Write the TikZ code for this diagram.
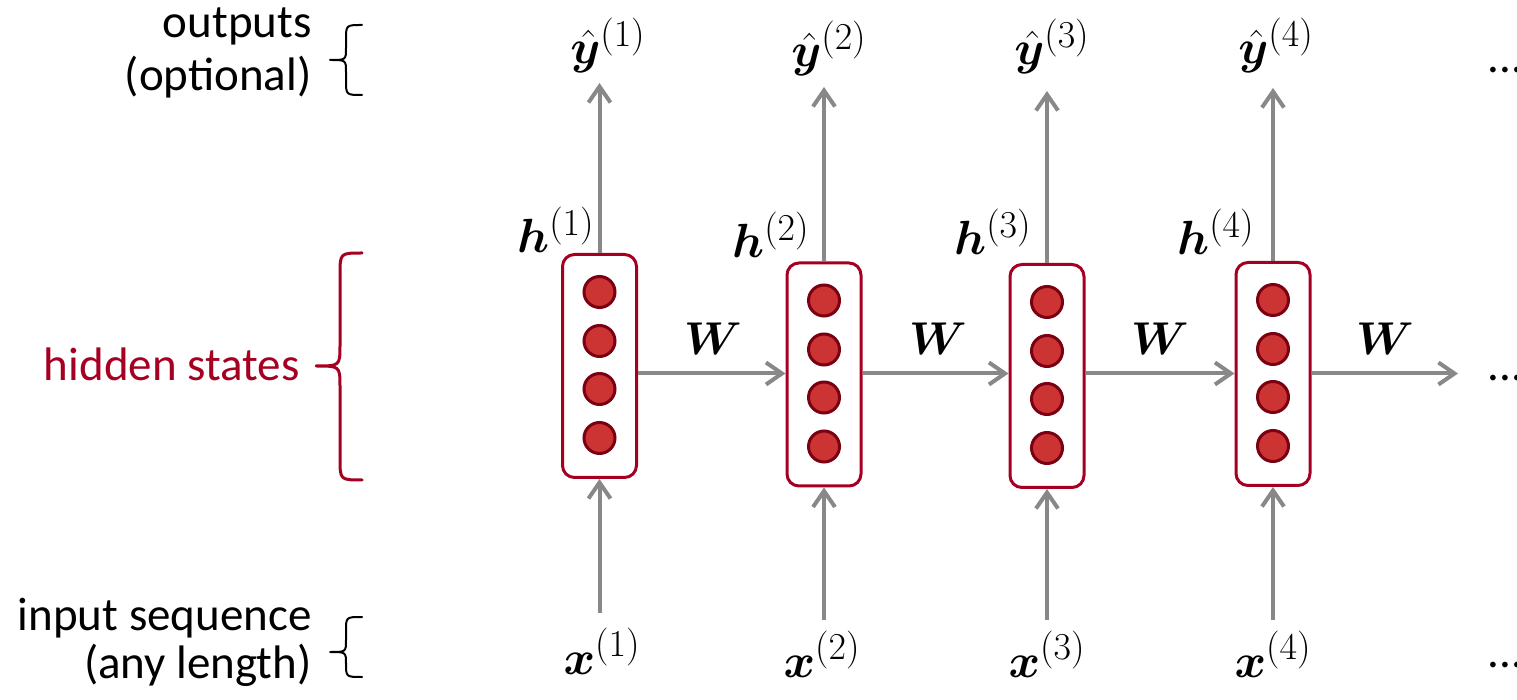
\RequirePackage{fix-cm}
\documentclass[tikz,border=0pt]{standalone}
\usepackage{bm}
\usepackage[no-math]{fontspec}
\setmainfont{Carlito}
\usetikzlibrary{arrows.meta,calc}
\newcommand{\tsup}[1]{^{\mbox{\fontsize{19}{21}\selectfont$(#1)$}}}
\definecolor{arrgray}{HTML}{888888}
\definecolor{boxred}{HTML}{A50021}
\definecolor{dotfill}{HTML}{CC3333}
\definecolor{dotline}{HTML}{7A0012}
\begin{document}
\begin{tikzpicture}[x=0.5pt,y=-0.5pt,
  arr/.style={draw=arrgray, line width=2pt, -{Straight Barb[length=8pt,width=11pt]}},
  cell/.style={draw=boxred, line width=1.5pt, rounded corners=6pt, minimum width=37pt, minimum height=111.5pt, inner sep=0pt, fill=white},
  unit/.style={circle, draw=dotline, fill=dotfill, line width=1.5pt, minimum size=15.5pt, inner sep=0pt},
  mlab/.style={inner sep=0pt, font=\fontsize{24}{28}\selectfont},
  wlab/.style={inner sep=0pt, font=\fontsize{23}{27}\selectfont},
  txt/.style={inner sep=0pt, font=\fontsize{23.5}{28}\selectfont},
  bracepath/.style={line width=1pt, line cap=round, line join=round}
]
\useasboundingbox (0,0) rectangle (1517,700);

% cells
\node[cell] (b1) at (599.5,366) {};
\node[cell] (b2) at (824,374.5) {};
\node[cell] (b3) at (1047,376) {};
\node[cell] (b4) at (1273,374) {};

% units inside cells
\foreach \b in {1,2,3,4}{
  \node[unit] (u\b a) at ($(b\b.center)+(0,-74)$) {};
  \node[unit] (u\b b) at ($(b\b.center)+(0,-25)$) {};
  \node[unit] (u\b c) at ($(b\b.center)+(0,23)$) {};
  \node[unit] (u\b d) at ($(b\b.center)+(0,72)$) {};
}

% coordinates for free arrow ends
\coordinate (hrow) at (0,373.5);
\coordinate (t1) at (599.5,83);
\coordinate (t2) at (824,87);
\coordinate (t3) at (1047,91);
\coordinate (t4) at (1273,88);
\coordinate (s1) at (599.5,613);
\coordinate (s2) at (824,620);
\coordinate (s3) at (1047,620);
\coordinate (s4) at (1273,620);
\coordinate (hend) at (1458,373.5);

% output and input arrows
\foreach \i in {1,2,3,4}{
  \draw[arr] (b\i.north) -- (t\i);
  \draw[arr] (s\i) -- (b\i.south);
}
% recurrent arrows
\draw[arr] (b1.east |- hrow) -- (b2.west |- hrow);
\draw[arr] (b2.east |- hrow) -- (b3.west |- hrow);
\draw[arr] (b3.east |- hrow) -- (b4.west |- hrow);
\draw[arr] (b4.east |- hrow) -- (hend);

% output labels
\node[mlab, anchor=base] (y1) at (608,64) {$\hat{\bm{y}}\tsup{1}$};
\node[mlab, anchor=base] (y2) at (829,67) {$\hat{\bm{y}}\tsup{2}$};
\node[mlab, anchor=base] (y3) at (1052,65) {$\hat{\bm{y}}\tsup{3}$};
\node[mlab, anchor=base] (y4) at (1276,64) {$\hat{\bm{y}}\tsup{4}$};

% hidden labels
\node[mlab, anchor=base east] (h1) at (595,253) {$\bm{h}\tsup{1}$};
\node[mlab, anchor=base east] (h2) at (810,258) {$\bm{h}\tsup{2}$};
\node[mlab, anchor=base east] (h3) at (1032,255) {$\bm{h}\tsup{3}$};
\node[mlab, anchor=base east] (h4) at (1255,255) {$\bm{h}\tsup{4}$};

% input labels
\node[mlab, anchor=base] (x1) at (602,674) {$\bm{x}\tsup{1}$};
\node[mlab, anchor=base] (x2) at (822,677) {$\bm{x}\tsup{2}$};
\node[mlab, anchor=base] (x3) at (1047,677) {$\bm{x}\tsup{3}$};
\node[mlab, anchor=base] (x4) at (1273,677) {$\bm{x}\tsup{4}$};

% W labels
\node[wlab, anchor=base] (w1) at (713,355) {$\bm{W}$};
\node[wlab, anchor=base] (w2) at (938,355) {$\bm{W}$};
\node[wlab, anchor=base] (w3) at (1160,355) {$\bm{W}$};
\node[wlab, anchor=base] (w4) at (1385,355) {$\bm{W}$};

% ellipses
\node[txt, anchor=base west] (d1) at (1487,73) {...};
\node[txt, anchor=base west] (d2) at (1487,381) {...};
\node[txt, anchor=base west] (d3) at (1487,667) {...};

% left texts
\node[txt, anchor=base east] (o1) at (312,38) {outputs};
\node[txt, anchor=base east] (o2) at (312,91) {(optional)};
\node[txt, anchor=base east, text=boxred] (hs) at (300,381) {hidden states};
\node[txt, anchor=base east] (i1) at (312,630) {input sequence};
\node[txt, anchor=base east] (i2) at (312,678) {(any length)};

% braces
\draw[bracepath] (362,25) .. controls (346,25) and (346,25) .. (346,40)
  -- (346,48) .. controls (346,60) and (346,60) .. (330,60)
  .. controls (346,60) and (346,60) .. (346,72)
  -- (346,80) .. controls (346,95) and (346,95) .. (362,95);
\draw[bracepath, draw=boxred, line width=1.5pt] (362,253) .. controls (340,253) and (340,253) .. (340,275)
  -- (340,345) .. controls (340,366) and (340,366) .. (316,366)
  .. controls (340,366) and (340,366) .. (340,387)
  -- (340,458) .. controls (340,480) and (340,480) .. (362,480);
\draw[bracepath] (362,617) .. controls (346,617) and (346,617) .. (346,631)
  -- (346,640) .. controls (346,652) and (346,652) .. (330,652)
  .. controls (346,652) and (346,652) .. (346,664)
  -- (346,663) .. controls (346,677) and (346,677) .. (362,677);
\end{tikzpicture}
\end{document}
